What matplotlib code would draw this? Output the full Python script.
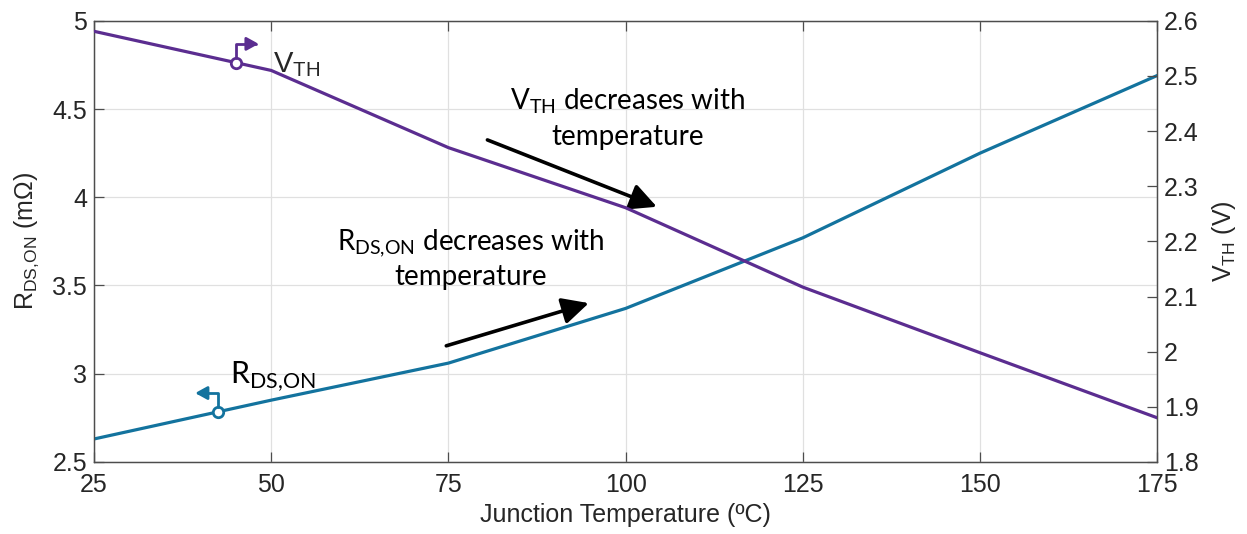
import numpy as np
import matplotlib.pyplot as plt
from matplotlib.transforms import offset_copy

plt.rcParams["font.family"] = ["Liberation Sans", "DejaVu Sans"]
plt.rcParams["mathtext.fontset"] = "custom"
plt.rcParams["mathtext.rm"] = "Lato"
plt.rcParams["mathtext.sf"] = "Liberation Sans"

# junction temperature sweep
temp = [25, 50, 75, 100, 125, 150, 175]
rds_on = [2.63, 2.85, 3.06, 3.37, 3.77, 4.25, 4.69]      # mOhm, left axis
vth = [2.581, 2.510, 2.370, 2.261, 2.117, 1.998, 1.880]  # V, right axis

x_ticks = [25, 50, 75, 100, 125, 150, 175]
rds_ticks = [2.5, 3, 3.5, 4, 4.5, 5]
rds_labels = ["2.5", "3", "3.5", "4", "4.5", "5"]
vth_ticks = [1.8, 1.9, 2.0, 2.1, 2.2, 2.3, 2.4, 2.5, 2.6]
vth_labels = ["1.8", "1.9", "2", "2.1", "2.2", "2.3", "2.4", "2.5", "2.6"]

c_rds = "#13739e"
c_vth = "#5b2d90"
c_axis = "#4d4d4d"
c_text = "#262626"

fig = plt.figure(figsize=(12.47, 5.34), dpi=100)
ax1 = fig.add_axes([0.0754, 0.135, 0.8526, 0.826])
ax2 = ax1.twinx()

ax1.set_xlim(25, 175)
ax1.set_ylim(2.5, 5)
ax2.set_ylim(1.8, 2.6)

ax1.set_xticks(x_ticks)
ax1.set_xticklabels([str(t) for t in x_ticks])
ax1.set_yticks(rds_ticks)
ax1.set_yticklabels(rds_labels)
ax2.set_yticks(vth_ticks)
ax2.set_yticklabels(vth_labels)

ax1.grid(True, color="#e0e0e0", lw=0.9)
ax1.set_axisbelow(True)

ax1.tick_params(axis="x", direction="in", length=7, width=0.9, top=True,
                labelsize=18, labelcolor=c_text, color=c_axis, pad=8)
ax1.tick_params(axis="y", direction="in", length=7, width=0.9, right=False,
                labelsize=18, labelcolor=c_text, color=c_axis, pad=5)
ax2.tick_params(axis="y", direction="in", length=7, width=0.9,
                labelsize=18, labelcolor=c_text, color=c_axis, pad=5)
for ax in (ax1, ax2):
    for s in ax.spines.values():
        s.set_color(c_axis)
        s.set_linewidth(0.9)

ax1.set_xlabel("Junction Temperature (ºC)", fontsize=18, color=c_text, labelpad=4)
ax1.set_ylabel(r"$\mathsf{R_{DS{,}ON}}$ (mΩ)", fontsize=18, color=c_text, labelpad=8)
ax2.set_ylabel(r"$\mathsf{V_{TH}}$ (V)", fontsize=18, color=c_text, labelpad=8)

ax1.plot(temp, rds_on, color=c_rds, lw=2.3, zorder=3)
ax2.plot(temp, vth, color=c_vth, lw=2.3, zorder=3)


def side_marker(ax, xs, ys, x0, color, direction):
    # open circle on the curve with a bent arrow pointing to its axis
    y0 = np.interp(x0, xs, ys)
    ax.plot([x0], [y0], "o", ms=7.5, mfc="white", mec=color, mew=2, zorder=5)
    start = offset_copy(ax.transData, fig=fig, x=0, y=3.6, units="points")
    end = offset_copy(ax.transData, fig=fig, x=16.5 * direction, y=13.5, units="points")
    ax.annotate("", xy=(x0, y0), xycoords=end, xytext=(x0, y0), textcoords=start,
                arrowprops=dict(arrowstyle="-|>,head_length=0.4,head_width=0.22",
                                connectionstyle="angle,angleA=90,angleB=0,rad=0",
                                color=color, lw=2, shrinkA=0, shrinkB=0,
                                mutation_scale=18), zorder=5)


side_marker(ax2, temp, vth, 45, c_vth, 1)
side_marker(ax1, temp, rds_on, 42.5, c_rds, -1)

# curve labels
ax1.text(50.3, 4.711, r"V$_\mathsf{TH}$", fontsize=21, color=c_text, ha="left",
         va="baseline", family=["Liberation Sans", "DejaVu Sans"])
ax1.text(44.2, 2.948, r"R$_\mathrm{DS{,}ON}$", fontsize=22, color="black", ha="left",
         va="baseline", family=["Lato", "DejaVu Sans"])

# trend notes
note = dict(fontsize=20, color="black", ha="center", va="baseline", family=["Lato", "DejaVu Sans"])
ax1.text(100.3, 4.495, r"$\mathrm{V_{TH}}$ decreases with", **note)
ax1.text(100.3, 4.297, "temperature", **note)
ax1.text(78.2, 3.702, r"$\mathrm{R_{DS{,}ON}}$ decreases with", **note)
ax1.text(78.2, 3.503, "temperature", **note)

big_arrow = dict(arrowstyle="-|>,head_length=0.4,head_width=0.2", color="black",
                 lw=2.6, mutation_scale=40, shrinkA=0, shrinkB=0)
ax1.annotate("", xy=(104.4, 3.946), xytext=(80.5, 4.325), arrowprops=big_arrow, zorder=6)
ax1.annotate("", xy=(94.8, 3.40), xytext=(74.7, 3.158), arrowprops=big_arrow, zorder=6)

fig.savefig("out.png", dpi=100, facecolor="white")
